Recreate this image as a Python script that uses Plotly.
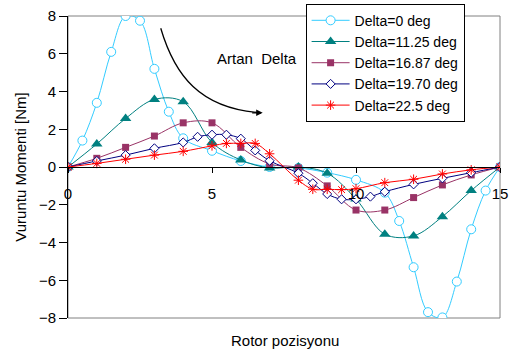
import plotly.graph_objects as go

# ---- data ----
x_d0 = [0, 0.5, 1, 1.5, 2, 2.5, 3, 3.5, 4, 5, 6, 7, 8, 9, 10, 11, 11.5, 12, 12.5, 13, 13.5, 14, 14.5, 15]
y_d0 = [0, 1.4, 3.4, 6.1, 8.0, 7.75, 5.2, 2.93, 1.52, 0.86, 0.32, 0.0, -0.05, -0.3, -0.68, -1.36, -2.86, -5.31, -7.69, -7.97, -6.07, -3.3, -1.25, 0]

x_d11 = list(range(16))
y_d11 = [0, 1.22, 2.57, 3.58, 3.46, 1.3, 0.37, -0.05, 0.0, -0.33, -1.7, -3.56, -3.65, -2.63, -1.25, 0]

x_d16 = list(range(16))
y_d16 = [0, 0.46, 1.04, 1.64, 2.34, 2.34, 1.04, 0.16, -0.05, -1.0, -2.28, -2.28, -1.62, -0.95, -0.42, 0]

x_d19 = [0, 1, 2, 3, 4, 4.5, 5, 5.5, 6, 6.5, 7, 8, 8.5, 9, 9.5, 10, 10.5, 11, 12, 13, 14, 15]
y_d19 = [0, 0.32, 0.63, 0.99, 1.3, 1.6, 1.71, 1.71, 1.5, 0.88, 0.33, -0.33, -0.86, -1.43, -1.71, -1.71, -1.57, -1.31, -0.92, -0.6, -0.3, 0]

x_d22 = [0, 1, 2, 3, 4, 5, 5.5, 6, 6.5, 7, 8, 8.5, 9, 9.5, 10, 11, 12, 13, 14, 15]
y_d22 = [0, 0.19, 0.41, 0.63, 0.83, 1.12, 1.25, 1.25, 1.25, 0.7, -0.7, -1.18, -1.18, -1.2, -1.15, -0.83, -0.65, -0.37, -0.15, 0]

names = ["Delta=0 deg", "Delta=11.25 deg", "Delta=16.87 deg", "Delta=19.70 deg", "Delta=22.5 deg"]
x_ticks = [0, 5, 10, 15]
y_ticks = [-8, -6, -4, -2, 0, 2, 4, 6, 8]

FONT = "Arial, Liberation Sans, sans-serif"

fig = go.Figure()

styles = [
    (x_d0, y_d0, "#33CCFF", dict(symbol="circle", size=9, color="white", line=dict(color="#33CCFF", width=1))),
    (x_d11, y_d11, "#008080", dict(symbol="triangle-up", size=10, color="#008080", line=dict(color="#008080", width=0))),
    (x_d16, y_d16, "#993366", dict(symbol="square", size=7, color="#993366", line=dict(color="#993366", width=0))),
    (x_d19, y_d19, "#000080", dict(symbol="diamond", size=7, color="white", line=dict(color="#000080", width=1))),
    (x_d22, y_d22, "#FF0000", dict(symbol="asterisk-open", size=8, color="#FF0000", line=dict(color="#FF0000", width=1))),
]
for (xs, ys, col, mk), nm in zip(styles, names):
    fig.add_trace(go.Scatter(
        x=xs, y=ys, name=nm, mode="lines+markers",
        line=dict(color=col, width=1, shape="spline", smoothing=1.0),
        marker=mk,
    ))

fig.update_layout(
    width=514, height=356,
    margin=dict(l=68, r=14, t=16, b=38, autoexpand=False),
    paper_bgcolor="white", plot_bgcolor="white",
    font=dict(family=FONT, size=15, color="black"),
    showlegend=True,
    legend=dict(
        xref="paper", yref="paper",
        x=0.550, y=1.0407, xanchor="left", yanchor="top",
        bgcolor="white", bordercolor="black", borderwidth=1,
        font=dict(family=FONT, size=14, color="black"),
        itemwidth=38,
    ),
    xaxis=dict(
        range=[0, 15], tickvals=x_ticks, showgrid=False, zeroline=False,
        showline=True, linecolor="black", linewidth=1,
        ticks="outside", ticklen=5, tickcolor="black",
        anchor="free", position=0.5, ticklabelstandoff=8,
        tickfont=dict(size=15),
    ),
    yaxis=dict(
        range=[-8, 8], tickvals=y_ticks, showgrid=False, zeroline=False,
        showline=True, linecolor="black", linewidth=1,
        ticks="outside", ticklen=8, tickcolor="black",
        tickfont=dict(size=15),
        title=dict(text="Vuruntu Momenti [Nm]", font=dict(size=15), standoff=8),
    ),
    shapes=[
        dict(type="rect", xref="paper", yref="paper", x0=0, x1=1, y0=0, y1=1,
             line=dict(color="#808080", width=1), layer="below"),
        dict(type="path", xref="x", yref="y",
             path="M 3.22,7.35 C 3.70,4.87 4.57,3.09 6.70,2.87",
             line=dict(color="black", width=1.3)),
    ],
    annotations=[
        dict(text="Rotor pozisyonu", xref="paper", yref="paper", x=0.502, y=-0.076,
             showarrow=False, xanchor="center", yanchor="middle", font=dict(size=15)),
        dict(text="Artan\u00a0 Delta", xref="x", yref="y", x=5.10, y=5.77,
             showarrow=False, xanchor="left", yanchor="middle", font=dict(size=15)),
        dict(text="", xref="x", yref="y", x=6.76, y=2.87, ax=-12, ay=0,
             showarrow=True, arrowhead=2, arrowsize=1, arrowwidth=1.3, arrowcolor="black"),
    ],
)

fig.write_html("out.html")
